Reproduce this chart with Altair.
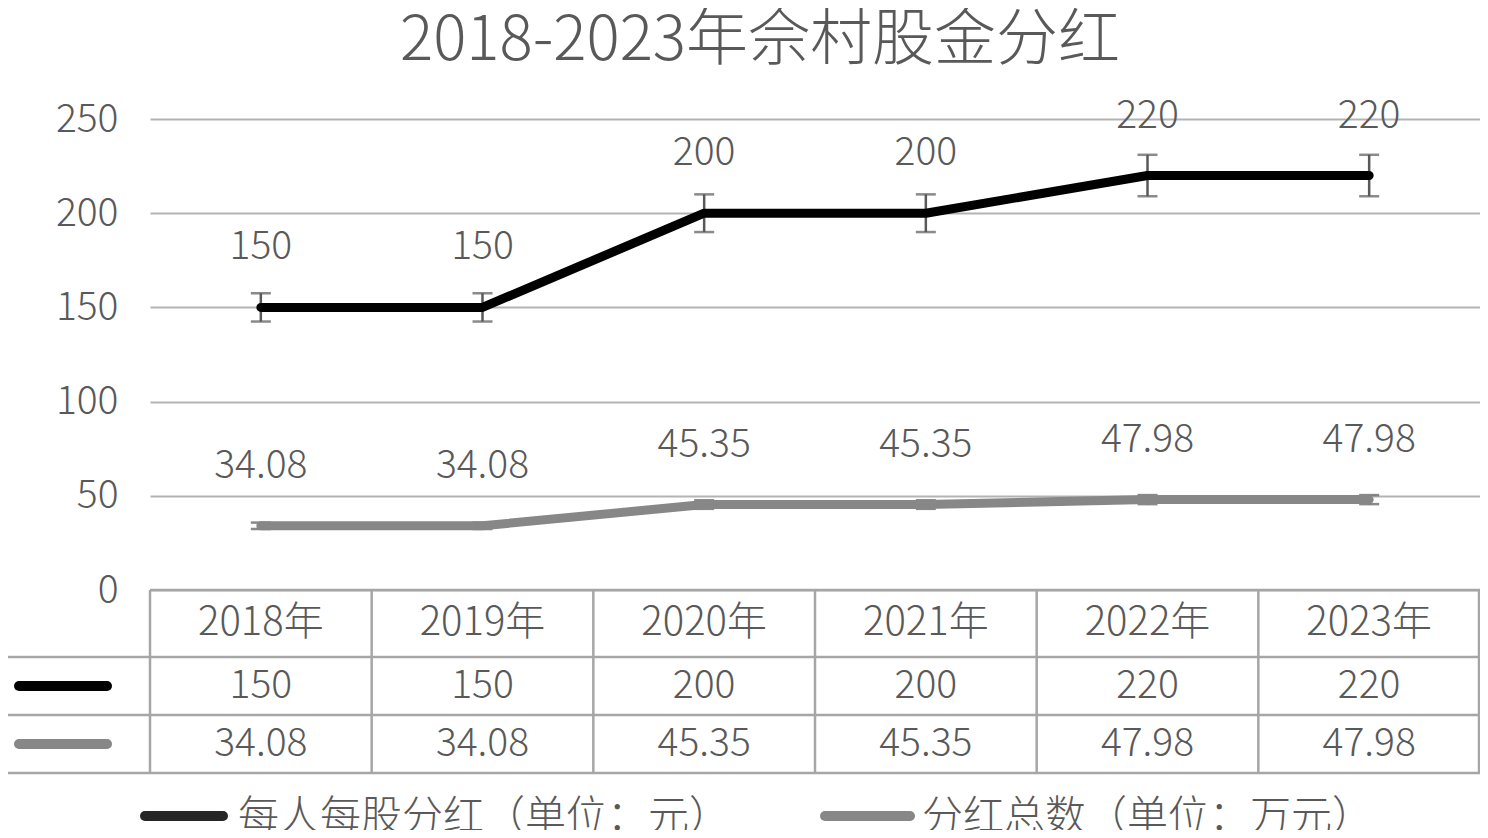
import altair as alt
import pandas as pd

# ---- data ----
years = ["2018年", "2019年", "2020年", "2021年", "2022年", "2023年"]
per_share = [150, 150, 200, 200, 220, 220]
total = [34.08, 34.08, 45.35, 45.35, 47.98, 47.98]
series_names = ["每人每股分红（单位：元）", "分红总数（单位：万元）"]
title_text = "2018-2023年佘村股金分红"
y_ticks = [0, 50, 100, 150, 200, 250]

FONT = "Noto Sans CJK SC"
FW = 300
FS = 39
TXT = "#595959"
GRID = "#b3b3b3"
BORDER = "#a6a6a6"
C_BLACK = "#000000"
C_GRAY = "#878787"

rows = []
for i, y in enumerate(years):
    rows.append({"year": y, "series": series_names[0], "value": per_share[i],
                 "label": f"{per_share[i]:g}"})
    rows.append({"year": y, "series": series_names[1], "value": total[i],
                 "label": f"{total[i]:.2f}"})
df = pd.DataFrame(rows)
df["lo"] = df["value"] * 0.95
df["hi"] = df["value"] * 1.05

W, H = 1330, 471

xscale = alt.Scale(type="band", domain=years, paddingInner=0, paddingOuter=0)
xc = alt.X("year:N", scale=xscale, axis=None, bandPosition=0.5)
yscale = alt.Scale(domain=[0, 250], nice=False, zero=True)
color = alt.Color("series:N", scale=alt.Scale(domain=series_names, range=[C_BLACK, C_GRAY]), legend=None)

base = alt.Chart(df)

grid = base.mark_rule(opacity=0).encode(
    y=alt.Y("value:Q", scale=yscale,
            axis=alt.Axis(values=y_ticks, grid=True, gridColor=GRID, gridWidth=2,
                          domain=False, ticks=False, labelFontSize=FS, labelColor=TXT,
                          labelFont=FONT, labelFontWeight=FW, labelPadding=32, title=None)),
)

err = base.mark_rule(color=TXT, strokeWidth=2.5).encode(
    x=xc, y=alt.Y("lo:Q", scale=yscale), y2="hi:Q")
cap_lo = base.mark_tick(color=TXT, size=20, thickness=2.5).encode(
    x=xc, y=alt.Y("lo:Q", scale=yscale))
cap_hi = base.mark_tick(color=TXT, size=20, thickness=2.5).encode(
    x=xc, y=alt.Y("hi:Q", scale=yscale))

lines = base.mark_line(strokeWidth=9, strokeCap="round", strokeJoin="round").encode(
    x=xc, y=alt.Y("value:Q", scale=yscale), color=color, detail="series:N")

labels = base.mark_text(font=FONT, fontWeight=FW, fontSize=FS, color=TXT, dy=-60,
                        baseline="middle").encode(
    x=xc, y=alt.Y("value:Q", scale=yscale), text="label:N")

one = alt.Chart(pd.DataFrame({"k": [0]}))

def hline(y, x1, x2):
    return one.mark_rule(color=BORDER, strokeWidth=2.5).encode(
        x=alt.value(x1), x2=alt.value(x2), y=alt.value(y))

def vline(x, y1, y2):
    return one.mark_rule(color=BORDER, strokeWidth=2.5).encode(
        x=alt.value(x), y=alt.value(y1), y2=alt.value(y2))

yr_df = pd.DataFrame({"year": years})
vlines = alt.Chart(yr_df).mark_rule(color=BORDER, strokeWidth=2.5).encode(
    x=alt.X("year:N", scale=xscale, axis=None, bandPosition=0),
    y=alt.value(H), y2=alt.value(654))

table_lines = [
    hline(H, 0, W), hline(538, -146, W), hline(596, -146, W), hline(654, -146, W),
    vline(W - 1, H, 654), vline(-146, 538, 654),
]

txt_kw = dict(font=FONT, fontWeight=FW, fontSize=FS, color=TXT, baseline="middle")
header = alt.Chart(yr_df).mark_text(**txt_kw, fontSize=40).encode(
    x=alt.X("year:N", scale=xscale, axis=None, bandPosition=0.5), y=alt.value(504), text="year:N") \
    if False else alt.Chart(yr_df).mark_text(font=FONT, fontWeight=FW, fontSize=40, color=TXT,
                                             baseline="middle").encode(
    x=alt.X("year:N", scale=xscale, axis=None, bandPosition=0.5), y=alt.value(504), text="year:N")

row1 = alt.Chart(df[df.series == series_names[0]]).mark_text(**txt_kw).encode(
    x=xc, y=alt.value(567), text="label:N")
row2 = alt.Chart(df[df.series == series_names[1]]).mark_text(**txt_kw).encode(
    x=xc, y=alt.value(625), text="label:N")

def key(x1, x2, y, col, w=10):
    return one.mark_rule(color=col, strokeWidth=w, strokeCap="round").encode(
        x=alt.value(x1), x2=alt.value(x2), y=alt.value(y))

keys = [key(-131, -43, 567, C_BLACK), key(-131, -43, 625, C_GRAY),
        key(-5, 73, 697, "#262626"), key(675, 760, 697, C_GRAY)]

leg_df = pd.DataFrame({"name": series_names, "px": [88, 772]})
legend_text = alt.Chart(leg_df).mark_text(font=FONT, fontWeight=FW, fontSize=41, color=TXT,
                                          align="left", baseline="middle").encode(
    x=alt.X("px:Q", scale=None), y=alt.value(699), text="name:N")

chart = alt.layer(
    grid, *table_lines, vlines, err, cap_lo, cap_hi, lines, labels,
    header, row1, row2, *keys, legend_text,
).properties(
    width=W, height=H,
    title=alt.TitleParams(title_text, font=FONT, fontSize=62, color=TXT, fontWeight=FW,
                          anchor="middle", dx=-55, offset=24),
    autosize=alt.AutoSizeParams(type="none"),
    padding={"left": 142, "top": 111, "right": 0, "bottom": 240},
).configure_view(stroke=None)

chart.save("out.html", embed_options={"renderer": "svg", "actions": False})
